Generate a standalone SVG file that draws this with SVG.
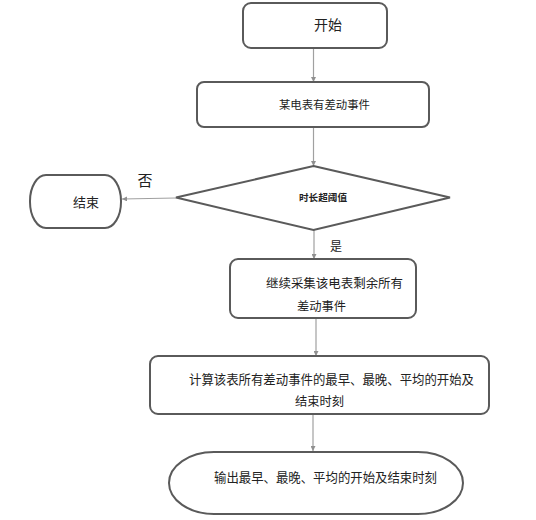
<svg xmlns="http://www.w3.org/2000/svg" width="536" height="520" viewBox="0 0 536 520">
<defs>
<style>
.shape{fill:#fff;stroke:#5a5a5a;stroke-width:2}
.conn{fill:none;stroke:#a0a0a0;stroke-width:1.2}
text{font-family:"Noto Sans CJK SC","Liberation Sans",sans-serif;fill:#222}
</style>
<marker id="arr" viewBox="0 0 8 8" refX="8" refY="4" markerWidth="5" markerHeight="5" orient="auto" markerUnits="userSpaceOnUse">
<path d="M0,0 L8,4 L0,8 z" fill="#909090"/>
</marker>
</defs>
<rect width="536" height="520" fill="#fff"/>
<g id="connectors">
<line class="conn" x1="313.5" y1="48" x2="313.5" y2="82" marker-end="url(#arr)"/>
<line class="conn" x1="313.5" y1="127" x2="313.5" y2="166" marker-end="url(#arr)"/>
<line class="conn" x1="176" y1="198" x2="122" y2="199" marker-end="url(#arr)"/>
<line class="conn" x1="314" y1="230" x2="314" y2="259" marker-end="url(#arr)"/>
<line class="conn" x1="316" y1="318" x2="316" y2="356" marker-end="url(#arr)"/>
<line class="conn" x1="313" y1="414" x2="313" y2="451" marker-end="url(#arr)"/>
<text x="145" y="186" font-size="15" text-anchor="middle">否</text>
<text x="336" y="251" font-size="12" text-anchor="middle">是</text>
</g>
<g id="start">
<rect class="shape" x="243" y="3" width="144" height="45" rx="8"/>
<text x="314" y="30" font-size="13.5" textLength="28" lengthAdjust="spacingAndGlyphs">开始</text>
</g>
<g id="event">
<rect class="shape" x="197" y="82" width="232" height="45" rx="7"/>
<text x="279" y="109" font-size="11" textLength="91" lengthAdjust="spacingAndGlyphs">某电表有差动事件</text>
</g>
<g id="decision">
<polygon class="shape" points="313.5,166 450,197.5 313.5,230 176,197.5"/>
<text x="299" y="201" font-size="9.5" font-weight="bold" textLength="48" lengthAdjust="spacingAndGlyphs">时长超阈值</text>
</g>
<g id="end">
<rect class="shape" x="30" y="175" width="91" height="53" rx="16" ry="26"/>
<text x="73" y="206.5" font-size="13" textLength="26" lengthAdjust="spacingAndGlyphs">结束</text>
</g>
<g id="collect">
<rect class="shape" x="230" y="259" width="186" height="59" rx="8"/>
<text x="266" y="287.5" font-size="12.4" textLength="137" lengthAdjust="spacingAndGlyphs">继续采集该电表剩余所有</text>
<text x="297" y="310.5" font-size="12.4" textLength="49" lengthAdjust="spacingAndGlyphs">差动事件</text>
</g>
<g id="compute">
<rect class="shape" x="150" y="356" width="339" height="58" rx="8"/>
<text x="189" y="383.5" font-size="12.9" textLength="285" lengthAdjust="spacingAndGlyphs">计算该表所有差动事件的最早、最晚、平均的开始及</text>
<text x="295" y="405.5" font-size="12.4" textLength="49" lengthAdjust="spacingAndGlyphs">结束时刻</text>
</g>
<g id="output">
<rect class="shape" x="169" y="452" width="294" height="62" rx="45" ry="31"/>
<text x="214" y="481.5" font-size="13" textLength="223" lengthAdjust="spacingAndGlyphs">输出最早、最晚、平均的开始及结束时刻</text>
</g>
</svg>
